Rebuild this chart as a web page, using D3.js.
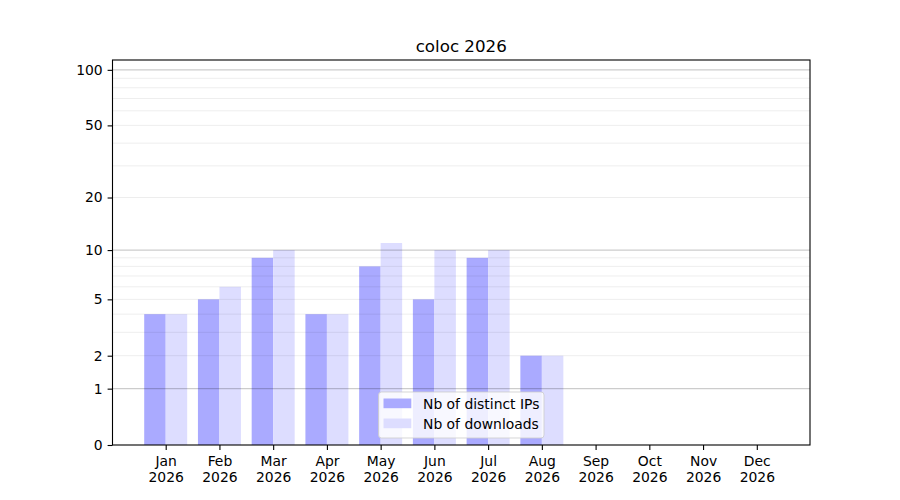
<!DOCTYPE html>
<html>
<head>
<meta charset="utf-8">
<script src="https://cdn.jsdelivr.net/npm/d3@7"></script>
<style>
  body { margin: 0; background: #fff; }
  svg { font-family: "DejaVu Sans", sans-serif; }
</style>
</head>
<body>
<svg id="chart"></svg>
<script>
// Chart data
const months = ["Jan", "Feb", "Mar", "Apr", "May", "Jun", "Jul", "Aug", "Sep", "Oct", "Nov", "Dec"];
const year_label = "2026";
const distinct_ips = [4, 5, 9, 4, 8, 5, 9, 2, 0, 0, 0, 0];
const downloads = [4, 6, 10, 4, 11, 10, 10, 2, 0, 0, 0, 0];
const y_ticks = [0, 1, 2, 5, 10, 20, 50, 100];
const y_major_grid = [1, 10, 100];
const y_minor_grid = [2, 3, 4, 5, 6, 7, 8, 9, 20, 30, 40, 50, 60, 70, 80, 90];
const series_names = ["Nb of distinct IPs", "Nb of downloads"];
const series_colors = ["#aaaaff", "#ddddff"];

// Dimensions of the figure and the axes box
const width = 900, height = 500;
const margins = { top: 60, right: 90, bottom: 55, left: 112.5 };
const chart_width = width - margins.left - margins.right;
const chart_height = height - margins.top - margins.bottom;

const svg = d3.select("#chart")
    .attr("width", width)
    .attr("height", height);

const g = svg.append("g")
    .attr("transform", `translate(${margins.left},${margins.top})`);

// Scales: months on a linear index, counts on a symlog (log1p) scale
const x_scale = d3.scaleLinear()
    .domain([-0.99, 11.99])
    .range([0, chart_width]);
const y_scale = d3.scaleSymlog()
    .constant(1)
    .domain([0, 113])
    .range([chart_height, 0]);

const bar_w = 0.4;

// Bars for the first series (left of each month)
g.selectAll(".bar-ips")
    .data(distinct_ips)
    .enter()
    .append("rect")
    .attr("class", "bar-ips")
    .attr("x", (d, i) => x_scale(i - bar_w))
    .attr("width", x_scale(bar_w) - x_scale(0))
    .attr("y", d => y_scale(d))
    .attr("height", d => y_scale(0) - y_scale(d))
    .attr("fill", series_colors[0]);

// Bars for the second series (right of each month)
g.selectAll(".bar-dl")
    .data(downloads)
    .enter()
    .append("rect")
    .attr("class", "bar-dl")
    .attr("x", (d, i) => x_scale(i))
    .attr("width", x_scale(bar_w) - x_scale(0))
    .attr("y", d => y_scale(d))
    .attr("height", d => y_scale(0) - y_scale(d))
    .attr("fill", series_colors[1]);

// Grid lines drawn over the bars
g.selectAll(".grid-minor")
    .data(y_minor_grid)
    .enter()
    .append("line")
    .attr("x1", 0).attr("x2", chart_width)
    .attr("y1", d => y_scale(d)).attr("y2", d => y_scale(d))
    .attr("stroke", "rgba(0,0,0,0.07)")
    .attr("stroke-width", 1);

g.selectAll(".grid-major")
    .data(y_major_grid)
    .enter()
    .append("line")
    .attr("x1", 0).attr("x2", chart_width)
    .attr("y1", d => y_scale(d)).attr("y2", d => y_scale(d))
    .attr("stroke", "rgba(0,0,0,0.2)")
    .attr("stroke-width", 1.1);

// X axis with two-line month labels
const x_axis = g.append("g")
    .attr("transform", `translate(0,${chart_height})`)
    .call(d3.axisBottom(x_scale)
        .tickValues(d3.range(months.length))
        .tickSize(4.9)
        .tickFormat(""));
x_axis.select(".domain").remove();
x_axis.selectAll(".tick line").attr("stroke-width", 1.1);
x_axis.selectAll(".tick").each(function(d) {
    const t = d3.select(this).append("text")
        .attr("fill", "#000")
        .attr("font-size", "13.9px")
        .attr("font-family", "DejaVu Sans, sans-serif")
        .attr("text-anchor", "middle");
    t.append("tspan").attr("x", 0).attr("y", 21.3).text(months[d]);
    t.append("tspan").attr("x", 0).attr("y", 37.3).text(year_label);
});

// Y axis
const y_axis = g.append("g")
    .call(d3.axisLeft(y_scale)
        .tickValues(y_ticks)
        .tickSize(4.9)
        .tickPadding(4.9)
        .tickFormat(d3.format("d")));
y_axis.select(".domain").remove();
y_axis.selectAll(".tick line").attr("stroke-width", 1.1);
y_axis.selectAll(".tick text")
    .attr("font-size", "13.9px")
    .attr("font-family", "DejaVu Sans, sans-serif")
    .attr("fill", "#000");

// Axes frame
g.append("rect")
    .attr("width", chart_width)
    .attr("height", chart_height)
    .attr("fill", "none")
    .attr("stroke", "#000")
    .attr("stroke-width", 1.1);

// Title
svg.append("text")
    .attr("x", margins.left + chart_width / 2)
    .attr("y", margins.top - 8.5)
    .attr("text-anchor", "middle")
    .attr("font-size", "16.7px")
    .text("coloc " + year_label);

// Legend, lower center
const legend_w = 165.5, legend_h = 46;
const legend = g.append("g")
    .attr("transform", `translate(${chart_width / 2 - legend_w / 2},${chart_height - 7 - legend_h})`);
legend.append("rect")
    .attr("width", legend_w)
    .attr("height", legend_h)
    .attr("rx", 3)
    .attr("fill", "rgba(255,255,255,0.8)")
    .attr("stroke", "rgba(204,204,204,0.8)")
    .attr("stroke-width", 1);
series_names.forEach((name, i) => {
    const row = legend.append("g")
        .attr("transform", `translate(0,${11.5 + i * 20})`);
    row.append("rect")
        .attr("x", 5)
        .attr("y", -5)
        .attr("width", 27.8)
        .attr("height", 9.7)
        .attr("fill", series_colors[i]);
    row.append("text")
        .attr("x", 44.5)
        .attr("y", 5)
        .attr("font-size", "13.9px")
        .text(name);
});
</script>
</body>
</html>
